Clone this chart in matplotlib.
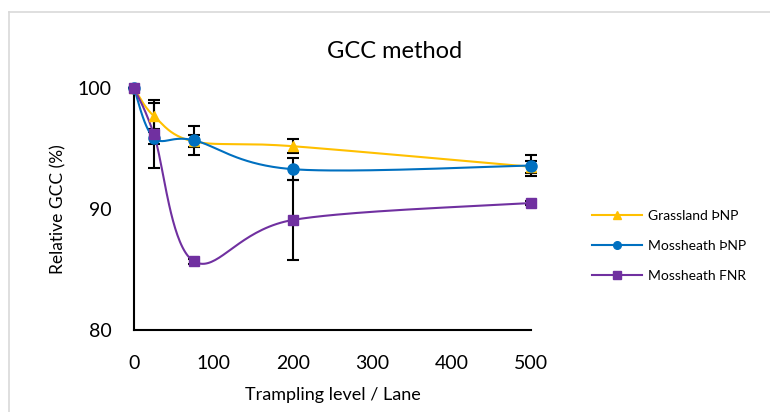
import matplotlib
matplotlib.use('Agg')
import matplotlib.pyplot as plt
import numpy as np

plt.rcParams['font.family'] = ['Lato', 'DejaVu Sans']

trampling = [0, 25, 75, 200, 500]
series_names = ['Grassland ÞNP', 'Mossheath ÞNP', 'Mossheath FNR']
grassland = [100, 97.7, 95.6, 95.2, 93.5]
grassland_err = [0, 1.1, 0.5, 0.6, 0.5]
moss_pnp = [100, 95.9, 95.7, 93.3, 93.6]
moss_pnp_err = [0, 0.5, 1.2, 0.9, 0.85]
moss_fnr = [100, 96.2, 85.7, 89.1, 90.5]
moss_fnr_err = [0, 2.8, 0.2, 3.3, 0.2]


def smooth(x, y, n=40):
    # excel-like smoothed line (catmull-rom bezier)
    p = np.column_stack([x, y]).astype(float)
    p = np.vstack([p[0], p, p[-1]])
    t = np.linspace(0, 1, n)[:, None]
    out = []
    for i in range(1, len(p) - 2):
        p0, p1, p2, p3 = p[i - 1], p[i], p[i + 1], p[i + 2]
        c1 = p1 + (p2 - p0) / 6
        c2 = p2 - (p3 - p1) / 6
        seg = ((1 - t) ** 3) * p1 + 3 * ((1 - t) ** 2) * t * c1 + 3 * (1 - t) * t ** 2 * c2 + t ** 3 * p2
        out.append(seg)
    out = np.vstack(out)
    return out[:, 0], out[:, 1]


fig = plt.figure(figsize=(7.7, 4.12), dpi=100)
ax = fig.add_axes([0.174, 0.199, 0.5156, 0.587])

styles = [
    (grassland, grassland_err, '#FFC000', '^', 7),
    (moss_pnp, moss_pnp_err, '#0070C0', 'o', 8),
    (moss_fnr, moss_fnr_err, '#7030A0', 's', 7.5),
]
handles = []
for (vals, errs, col, mk, ms), name in zip(styles, series_names):
    ax.errorbar(trampling, vals, yerr=errs, fmt='none', ecolor='black',
                elinewidth=1.5, capsize=4.5, capthick=1.5, zorder=2, clip_on=False)
    sx, sy = smooth(trampling, vals)
    ax.plot(sx, sy, color=col, lw=1.5, zorder=3, clip_on=False)
    ax.plot(trampling, vals, linestyle='none', marker=mk, color=col, ms=ms,
            zorder=4, clip_on=False)
    h, = ax.plot([], [], color=col, lw=1.5, marker=mk, ms=5.5, label=name)
    handles.append(h)

ax.set_xlim(0, 500)
ax.set_ylim(80, 100)
ax.set_xticks([0, 100, 200, 300, 400, 500])
ax.set_yticks([80, 90, 100])
ax.tick_params(length=0, labelsize=14)
ax.tick_params(axis='y', pad=16)
ax.tick_params(axis='x', pad=18)
for s in ['top', 'right']:
    ax.spines[s].set_visible(False)
for s in ['left', 'bottom']:
    ax.spines[s].set_linewidth(1.5)
    ax.spines[s].set_color('black')

ax.set_xlabel('Trampling level / Lane', fontsize=13, labelpad=11)
ax.set_ylabel('Relative GCC (%)', fontsize=12.5, labelpad=8)
fig.text(0.513, 0.875, 'GCC method', fontsize=17, ha='center', va='center')

ax.legend(handles=handles, loc='upper left', bbox_to_anchor=(0.760, 0.508),
          bbox_transform=fig.transFigure, frameon=False, fontsize=10,
          handlelength=3.6, handletextpad=0.45, labelspacing=1.3, borderpad=0)

# chart area border
fig.add_artist(plt.Line2D([9 / 770, 9 / 770], [0, 1 - 12 / 412], color='#d9d9d9', lw=1.2))
fig.add_artist(plt.Line2D([9 / 770, 1], [1 - 12 / 412, 1 - 12 / 412], color='#d9d9d9', lw=1.2))

fig.savefig('out.png', dpi=100)
